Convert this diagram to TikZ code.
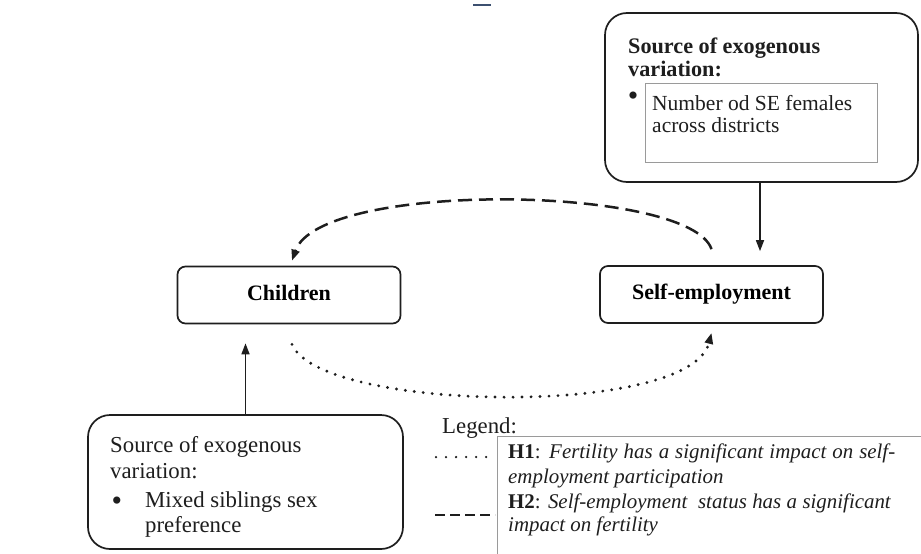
\documentclass[tikz,border=0pt]{standalone}
\usepackage{fontspec}
\setmainfont{Liberation Serif}
\usetikzlibrary{arrows.meta}
\definecolor{ink}{HTML}{1E1E1E}
\definecolor{rulegray}{HTML}{9A9A9A}
\definecolor{topmarkcol}{HTML}{3C5070}
\begin{document}
\begin{tikzpicture}[x=1pt,y=-1pt,
  smallbox/.style={draw=ink, line width=1.7pt, rounded corners=8pt, inner sep=0pt,
    minimum width=223pt, minimum height=57pt, text height=15pt, text depth=5pt,
    font=\fontsize{22}{26}\selectfont\bfseries},
  bigbox/.style={draw=ink, line width=1.7pt, rounded corners=22pt, inner sep=0pt},
  txt/.style={anchor=base west, inner sep=0pt, text=ink},
  title/.style={txt, font=\fontsize{22.8}{26}\selectfont},
  bul/.style={anchor=center, inner sep=0pt, text=ink, font=\fontsize{30}{30}\selectfont},
  tip/.style={-{Triangle[length=11pt,width=8pt]}},
  solidconn/.style={draw=ink, line width=1.6pt, tip},
  dashconn/.style={draw=ink, line width=2.5pt, dash pattern=on 14pt off 7pt, tip},
  dotconn/.style={draw=ink, line width=3.2pt, line cap=round, dash pattern=on 0pt off 9pt, tip},
  legtxt/.style={txt, font=\fontsize{20.9}{24}\selectfont},
]
\useasboundingbox (0,0) rectangle (921,554);
\fill[white] (0,0) rectangle (921,554);

% small mark at top
\draw[draw=topmarkcol, line width=2pt] (473,5) -- (491,5);

% top box
\node[bigbox, minimum width=313pt, minimum height=169pt] (topbox) at (761.5,97.5) {};
\node[draw=rulegray, line width=0.8pt, inner sep=0pt, minimum width=232pt, minimum height=79pt] (inner) at (761,122.5) {};
\node[txt, font=\fontsize{22.2}{26}\selectfont\bfseries] (t1) at (628,53) {Source of exogenous};
\node[txt, font=\fontsize{22.2}{26}\selectfont\bfseries] (t2) at (628,76) {variation:};
\node[bul] (b1) at (633,99) {\textbullet};
\node[txt, font=\fontsize{21.5}{26}\selectfont] (t3) at (652,110) {Number od SE females};
\node[txt, font=\fontsize{21.5}{26}\selectfont] (t4) at (652,132) {across districts};

% main boxes
\node[smallbox] (ch) at (289,295) {Children};
\node[smallbox] (se) at (711.5,294.5) {Self-employment};

% bottom box
\node[bigbox, minimum width=315pt, minimum height=134pt] (botbox) at (245.5,482) {};
\node[title] (s1) at (110,452) {Source of exogenous};
\node[title] (s2) at (110,478) {variation:};
\node[bul] (b2) at (117,504) {\textbullet};
\node[title] (s3) at (145,507) {Mixed siblings sex};
\node[title] (s4) at (145,532) {preference};

% connectors
\draw[solidconn] (topbox.south -| 760,0) -- ([yshift=14pt]se.north -| 760,0);
\draw[solidconn] (botbox.north) -- ([yshift=-19pt]ch.south -| botbox.north);
\draw[dashconn] ([yshift=16pt]se.north) .. controls (690,185) and (320,180) .. ([xshift=3pt,yshift=5pt]ch.north);
\draw[dotconn] ([xshift=3pt,yshift=-20pt]ch.south) .. controls (320,412) and (690,418) .. ([yshift=-9pt]se.south);

% legend
\node[title] (leg) at (442,433) {Legend:};
\coordinate (lc) at (497,436);
\draw[rulegray, line width=1pt] (921,436) -- (lc) -- (497,554);
\coordinate (d1) at (436,457);
\coordinate (d2) at (492,457);
\coordinate (e1) at (435,515);
\coordinate (e2) at (495,515);
\draw[ink, line width=2.5pt, line cap=round, dash pattern=on 0pt off 10pt] (d1) -- (d2);
\draw[ink, line width=2.5pt, dash pattern=on 10pt off 5pt] (e1) -- (e2);
\node[legtxt] (h1) at (508,458) {\makebox[387pt][s]{\textbf{H1}: \textit{Fertility has a significant impact on self-}}};
\node[legtxt] (h1b) at (508,483) {\textit{employment participation}};
\node[legtxt] (h2) at (508,508) {\makebox[383pt][s]{\textbf{H2}: \textit{Self-employment\ \ status has a significant}}};
\node[legtxt] (h2b) at (508,531) {\textit{impact on fertility}};
\end{tikzpicture}
\end{document}
